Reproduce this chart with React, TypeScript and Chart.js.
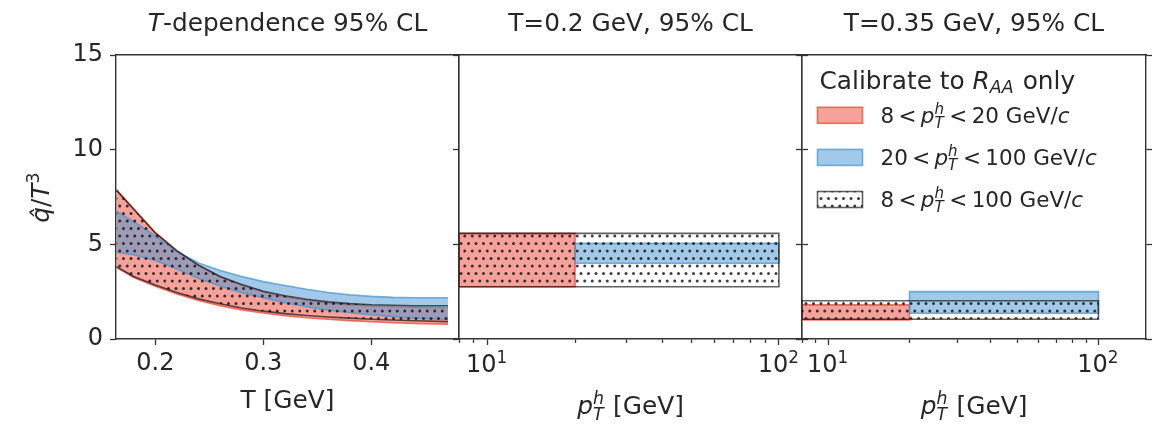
import React, { useEffect, useRef } from 'react';
import { Chart, registerables } from 'chart.js';

Chart.register(...registerables);

// ---- data -------------------------------------------------------------

// left panel: q^/T^3 bands vs T [GeV]
const tempGrid = [0.164, 0.18, 0.2, 0.22, 0.24, 0.26, 0.28, 0.3, 0.32, 0.34, 0.36, 0.38, 0.4, 0.42, 0.44, 0.471];
const lowPtLower = [3.78, 3.25, 2.78, 2.38, 2.03, 1.76, 1.54, 1.37, 1.23, 1.12, 1.04, 0.97, 0.91, 0.86, 0.82, 0.78];
const lowPtUpper = [7.9, 6.88, 5.62, 4.66, 3.88, 3.27, 2.84, 2.48, 2.22, 2.04, 1.9, 1.8, 1.74, 1.7, 1.67, 1.65];
const highPtLower = [4.58, 4.45, 4.15, 3.7, 3.2, 2.8, 2.45, 2.18, 1.92, 1.7, 1.53, 1.39, 1.28, 1.18, 1.1, 1.03];
const highPtUpper = [6.75, 6.2, 5.45, 4.62, 4.02, 3.62, 3.3, 3.03, 2.83, 2.63, 2.46, 2.33, 2.25, 2.2, 2.18, 2.18];
const allPtLower = [3.82, 3.3, 2.85, 2.46, 2.12, 1.86, 1.64, 1.47, 1.34, 1.24, 1.16, 1.1, 1.04, 1.0, 0.96, 0.92];
const allPtUpper = [7.85, 6.85, 5.6, 4.65, 3.9, 3.3, 2.88, 2.52, 2.28, 2.1, 1.96, 1.87, 1.81, 1.78, 1.76, 1.76];

// pT ranges of the three calibrations [GeV]
const lowPtRange = [8, 20];
const highPtRange = [20, 100];
const allPtRange = [8, 100];

// T = 0.2 GeV: [lower, upper] of q^/T^3
const t02LowPt = [2.76, 5.58];
const t02HighPt = [4.0, 5.05];
const t02AllPt = [2.76, 5.58];

// T = 0.35 GeV
const t035LowPt = [1.0, 1.8];
const t035HighPt = [1.36, 2.5];
const t035AllPt = [1.04, 2.02];

const yTicks = [0, 5, 10, 15];
const tTicks = [0.2, 0.3, 0.4];
const ptTicks = [8, 9, 10, 20, 30, 40, 50, 60, 70, 80, 90, 100];
const ptMajor = [10, 100];

// ---- style ------------------------------------------------------------

const W = 1157;
const H = 424;
const PLOT_TOP = 55;
const PLOT_BOTTOM = 339;
const PANELS = [
    { left: 116, right: 459 },
    { left: 459, right: 802 },
    { left: 802, right: 1146 },
];
const FONT = '"DejaVu Sans", sans-serif';
const INK = '#262626';
const SPINE = '#333333';
const RED_FILL = 'rgba(238, 70, 55, 0.5)';
const RED_EDGE = 'rgba(238, 70, 55, 0.75)';
const BLUE_FILL = 'rgba(70, 150, 210, 0.5)';
const BLUE_EDGE = 'rgba(70, 150, 210, 0.75)';
const DOT_EDGE = 'rgba(0, 0, 0, 0.62)';
const DOT_COLOR = 'rgba(20, 20, 20, 0.82)';
const TICK_SIZE = 24;
const LABEL_SIZE = 24.8;
const THIN = '\u2009';

type Seg = { t?: string; it?: boolean; sub?: string; sup?: string; supUp?: number; subDown?: number };
type Label = { segs: Seg[]; x: number; y: number; size: number; rotate?: boolean; align?: 'left' | 'center' };

const fontStr = (size: number, it?: boolean) => `${it ? 'italic ' : ''}${size}px ${FONT}`;

function segWidth(ctx: CanvasRenderingContext2D, s: Seg, size: number) {
    if (s.t !== undefined) {
        ctx.font = fontStr(size, s.it);
        return ctx.measureText(s.t).width;
    }
    ctx.font = fontStr(size * 0.7, s.it);
    const a = s.sub ? ctx.measureText(s.sub).width : 0;
    const b = s.sup ? ctx.measureText(s.sup).width : 0;
    return Math.max(a, b) + size * 0.05;
}

function drawRich(ctx: CanvasRenderingContext2D, segs: Seg[], x: number, y: number, size: number, align: 'left' | 'center') {
    const total = segs.reduce((acc, s) => acc + segWidth(ctx, s, size), 0);
    let cx = align === 'center' ? x - total / 2 : x;
    ctx.textAlign = 'left';
    ctx.textBaseline = 'alphabetic';
    ctx.fillStyle = INK;
    segs.forEach(s => {
        const w = segWidth(ctx, s, size);
        if (s.t !== undefined) {
            ctx.font = fontStr(size, s.it);
            ctx.fillText(s.t, cx, y);
        } else {
            ctx.font = fontStr(size * 0.7, s.it);
            if (s.sub) ctx.fillText(s.sub, cx, y + size * (s.subDown ?? 0.22));
            if (s.sup) ctx.fillText(s.sup, cx, y - size * (s.supUp ?? 0.38));
        }
        cx += w;
    });
}

// matplotlib-like '..' hatch: staggered rows of small dots
function makeDots(): CanvasPattern {
    const tile = document.createElement('canvas');
    tile.width = 15;
    tile.height = 15;
    const g = tile.getContext('2d')!;
    g.fillStyle = DOT_COLOR;
    [[3.5, 3.5], [11, 3.5], [7.25, 11], [14.75, 11], [-0.25, 11]].forEach(([x, y]) => {
        g.beginPath();
        g.arc(x, y, 1.5, 0, Math.PI * 2);
        g.fill();
    });
    return g.createPattern(tile, 'repeat')!;
}

const ptLabel = (lo: string, hi: string): Seg[] => [
    { t: lo + THIN + '<' + THIN },
    { t: 'p', it: true },
    { sub: 'T', sup: 'h', it: true, subDown: 0.26, supUp: 0.42 },
    { t: THIN + '<' + THIN + hi + ' GeV/' },
    { t: 'c', it: true },
];

const ptAxisTitle: Seg[] = [
    { t: 'p', it: true },
    { sub: 'T', sup: 'h', it: true, subDown: 0.26, supUp: 0.42 },
    { t: ' [GeV]' },
];

function textPlugin(labels: Label[], logTicks: boolean, legend?: { fill: string | CanvasPattern; edge: string; under?: string; segs: Seg[] }[]) {
    return {
        id: 'richText',
        afterDraw(chart: any) {
            const ctx: CanvasRenderingContext2D = chart.ctx;
            ctx.save();
            labels.forEach(l => {
                ctx.save();
                if (l.rotate) {
                    ctx.translate(l.x, l.y);
                    ctx.rotate(-Math.PI / 2);
                    drawRich(ctx, l.segs, 0, 0, l.size, l.align || 'center');
                } else {
                    drawRich(ctx, l.segs, l.x, l.y, l.size, l.align || 'center');
                }
                ctx.restore();
            });
            if (logTicks) {
                const xs = chart.scales.x;
                ptMajor.forEach((v, i) => {
                    drawRich(ctx, [{ t: '10' }, { sup: String(i + 1), supUp: 0.36 }], xs.getPixelForValue(v), 372, TICK_SIZE, 'center');
                });
            }
            if (legend) {
                drawRich(ctx, [{ t: 'Calibrate to ' }, { t: 'R', it: true }, { sub: 'AA', it: true, subDown: 0.2 }, { t: ' only' }], 819.5, 88.5, LABEL_SIZE, 'left');
                legend.forEach((it, i) => {
                    const cy = 115.3 + i * 42.1;
                    const x0 = 817.5;
                    const w = 45;
                    const h = 16;
                    if (it.under) {
                        ctx.fillStyle = it.under;
                        ctx.fillRect(x0, cy - h / 2, w, h);
                    }
                    ctx.fillStyle = it.fill;
                    ctx.fillRect(x0, cy - h / 2, w, h);
                    ctx.strokeStyle = it.edge;
                    ctx.lineWidth = 1.6;
                    ctx.strokeRect(x0, cy - h / 2, w, h);
                    drawRich(ctx, it.segs, 880.5, cy + 7.4, 21.5, 'left');
                });
            }
            ctx.restore();
        },
    };
}

function buildScales(o: {
    xType: 'linear' | 'logarithmic';
    xMin: number;
    xMax: number;
    xTicks: number[];
    xMajor?: number[];
    xLabels: boolean;
    yLabels: boolean;
    rightTicks: boolean;
    leftW: number;
    rightW: number;
}) {
    const tickFont = { family: FONT, size: TICK_SIZE };
    const border = { display: true, color: SPINE, width: 1.4 };
    const isMajor = (v: number) => !o.xMajor || o.xMajor.includes(v);
    return {
        x: {
            type: o.xType,
            min: o.xMin,
            max: o.xMax,
            position: 'bottom',
            afterBuildTicks: (s: any) => { s.ticks = o.xTicks.map(v => ({ value: v })); },
            afterFit: (s: any) => { s.height = H - PLOT_BOTTOM; },
            border,
            grid: {
                display: true, drawOnChartArea: false, drawTicks: true, tickLength: 6,
                tickColor: SPINE, tickWidth: 1.3,
                tickBorderDash: (c: any) => (c.tick && isMajor(c.tick.value) ? [] : [3.5, 40]),
            },
            ticks: {
                display: o.xLabels, autoSkip: false, maxRotation: 0, minRotation: 0, padding: 4,
                color: INK, font: tickFont, callback: (v: any) => String(v),
            },
        },
        xTop: {
            type: o.xType,
            min: o.xMin,
            max: o.xMax,
            position: 'top',
            afterFit: (s: any) => { s.height = 0; },
            border,
            grid: { display: true, drawOnChartArea: false, drawTicks: false },
            ticks: { display: false },
        },
        y: {
            type: 'linear',
            min: 0,
            max: 15,
            position: 'left',
            afterBuildTicks: (s: any) => { s.ticks = yTicks.map(v => ({ value: v })); },
            afterFit: (s: any) => { s.width = o.leftW; },
            border,
            grid: { display: true, drawOnChartArea: false, drawTicks: true, tickLength: 6, tickColor: SPINE, tickWidth: 1.3 },
            ticks: { display: o.yLabels, padding: 7, color: INK, font: tickFont, callback: (v: any) => String(v) },
        },
        yRight: {
            type: 'linear',
            min: 0,
            max: 15,
            position: 'right',
            afterBuildTicks: (s: any) => { s.ticks = yTicks.map(v => ({ value: v })); },
            afterFit: (s: any) => { s.width = o.rightW; },
            border,
            grid: { display: true, drawOnChartArea: false, drawTicks: o.rightTicks, tickLength: 6, tickColor: SPINE, tickWidth: 1.3 },
            ticks: { display: false },
        },
    };
}

const curve = (ys: number[]) => ys.map((y, i) => ({ x: tempGrid[i], y }));

const box = (xr: number[], yr: number[]) => [
    { x: xr[0], y: yr[0] },
    { x: xr[1], y: yr[0] },
    { x: xr[1], y: yr[1] },
    { x: xr[0], y: yr[1] },
    { x: xr[0], y: yr[0] },
];

function boxDatasets(lowPt: number[], highPt: number[], allPt: number[], dots: CanvasPattern) {
    const common = { xAxisID: 'x', yAxisID: 'y', fill: 'shape', borderWidth: 1.6, pointRadius: 0, borderJoinStyle: 'miter' };
    return [
        { ...common, label: '8 < pT < 100 GeV/c', data: box(allPtRange, allPt), borderColor: DOT_EDGE, backgroundColor: dots, order: 1 },
        { ...common, label: '20 < pT < 100 GeV/c', data: box(highPtRange, highPt), borderColor: BLUE_EDGE, backgroundColor: BLUE_FILL, order: 2 },
        { ...common, label: '8 < pT < 20 GeV/c', data: box(lowPtRange, lowPt), borderColor: RED_EDGE, backgroundColor: RED_FILL, order: 3 },
    ];
}

function padding(i: number, leftW: number, rightW: number) {
    return { left: PANELS[i].left - leftW, right: W - PANELS[i].right - rightW, top: PLOT_TOP, bottom: 0 };
}

const baseOptions = {
    responsive: false,
    maintainAspectRatio: false,
    animation: false,
    events: [],
    elements: { point: { radius: 0 }, line: { tension: 0 } },
};

export default function App() {
    const ref1 = useRef<HTMLCanvasElement | null>(null);
    const ref2 = useRef<HTMLCanvasElement | null>(null);
    const ref3 = useRef<HTMLCanvasElement | null>(null);

    useEffect(() => {
        if (!ref1.current || !ref2.current || !ref3.current) return;
        const dots = makeDots();
        const charts: Chart[] = [];
        const pluginsOff = { legend: { display: false }, title: { display: false }, tooltip: { enabled: false } };

        // panel 1: temperature dependence
        const band = { xAxisID: 'x', yAxisID: 'y', pointRadius: 0, borderWidth: 1.6 };
        charts.push(new Chart(ref1.current, {
            type: 'line',
            data: {
                datasets: [
                    { ...band, label: 'low lower', data: curve(lowPtLower), borderColor: RED_EDGE, fill: false, order: 3 },
                    { ...band, label: '8 < pT < 20 GeV/c', data: curve(lowPtUpper), borderColor: RED_EDGE, backgroundColor: RED_FILL, fill: '-1', order: 3 },
                    { ...band, label: 'high lower', data: curve(highPtLower), borderColor: BLUE_EDGE, fill: false, order: 2 },
                    { ...band, label: '20 < pT < 100 GeV/c', data: curve(highPtUpper), borderColor: BLUE_EDGE, backgroundColor: BLUE_FILL, fill: '-1', order: 2 },
                    { ...band, label: 'all lower', data: curve(allPtLower), borderColor: DOT_EDGE, fill: false, order: 1 },
                    { ...band, label: '8 < pT < 100 GeV/c', data: curve(allPtUpper), borderColor: DOT_EDGE, backgroundColor: dots, fill: '-1', order: 1 },
                ],
            } as any,
            options: {
                ...baseOptions,
                layout: { autoPadding: false, padding: padding(0, 116, 0) },
                plugins: pluginsOff,
                scales: buildScales({
                    xType: 'linear', xMin: 0.1636, xMax: 0.4812, xTicks: tTicks,
                    xLabels: true, yLabels: true, rightTicks: false, leftW: 116, rightW: 0,
                }),
            } as any,
            plugins: [textPlugin([
                { segs: [{ t: 'T', it: true }, { t: '-dependence 95% CL' }], x: (PANELS[0].left + PANELS[0].right) / 2, y: 30.5, size: LABEL_SIZE },
                { segs: [{ t: 'T [GeV]' }], x: (PANELS[0].left + PANELS[0].right) / 2, y: 407.5, size: LABEL_SIZE },
                { segs: [{ t: 'q\u0302', it: true }, { t: '/' }, { t: 'T', it: true }, { sup: '3', supUp: 0.42 }], x: 49, y: (PLOT_TOP + PLOT_BOTTOM) / 2, size: LABEL_SIZE, rotate: true },
            ], false)],
        }));

        // panel 2: T = 0.2 GeV
        charts.push(new Chart(ref2.current, {
            type: 'line',
            data: { datasets: boxDatasets(t02LowPt, t02HighPt, t02AllPt, dots) } as any,
            options: {
                ...baseOptions,
                layout: { autoPadding: false, padding: padding(1, 10, 10) },
                plugins: pluginsOff,
                scales: buildScales({
                    xType: 'logarithmic', xMin: 8, xMax: 120, xTicks: ptTicks, xMajor: ptMajor,
                    xLabels: false, yLabels: false, rightTicks: true, leftW: 10, rightW: 10,
                }),
            } as any,
            plugins: [textPlugin([
                { segs: [{ t: 'T=0.2 GeV, 95% CL' }], x: (PANELS[1].left + PANELS[1].right) / 2, y: 30.5, size: LABEL_SIZE },
                { segs: ptAxisTitle, x: (PANELS[1].left + PANELS[1].right) / 2, y: 414, size: LABEL_SIZE },
            ], true)],
        }));

        // panel 3: T = 0.35 GeV, with legend
        charts.push(new Chart(ref3.current, {
            type: 'line',
            data: { datasets: boxDatasets(t035LowPt, t035HighPt, t035AllPt, dots) } as any,
            options: {
                ...baseOptions,
                layout: { autoPadding: false, padding: padding(2, 10, 10) },
                plugins: pluginsOff,
                scales: buildScales({
                    xType: 'logarithmic', xMin: 8, xMax: 150, xTicks: ptTicks, xMajor: ptMajor,
                    xLabels: false, yLabels: false, rightTicks: true, leftW: 10, rightW: 10,
                }),
            } as any,
            plugins: [textPlugin([
                { segs: [{ t: 'T=0.35 GeV, 95% CL' }], x: (PANELS[2].left + PANELS[2].right) / 2, y: 30.5, size: LABEL_SIZE },
                { segs: ptAxisTitle, x: (PANELS[2].left + PANELS[2].right) / 2, y: 414, size: LABEL_SIZE },
            ], true, [
                { fill: RED_FILL, edge: RED_EDGE, segs: ptLabel('8', '20') },
                { fill: BLUE_FILL, edge: BLUE_EDGE, segs: ptLabel('20', '100') },
                { fill: dots, edge: DOT_EDGE, under: '#ffffff', segs: ptLabel('8', '100') },
            ])],
        }));

        return () => charts.forEach(c => c.destroy());
    }, []);

    const canvasStyle: React.CSSProperties = { position: 'absolute', left: 0, top: 0, width: W, height: H };
    return (
        <div style={{ position: 'absolute', left: 0, top: 0, width: W, height: H, background: '#ffffff' }}>
            <canvas ref={ref1} width={W} height={H} style={canvasStyle} />
            <canvas ref={ref2} width={W} height={H} style={canvasStyle} />
            <canvas ref={ref3} width={W} height={H} style={canvasStyle} />
        </div>
    );
}
